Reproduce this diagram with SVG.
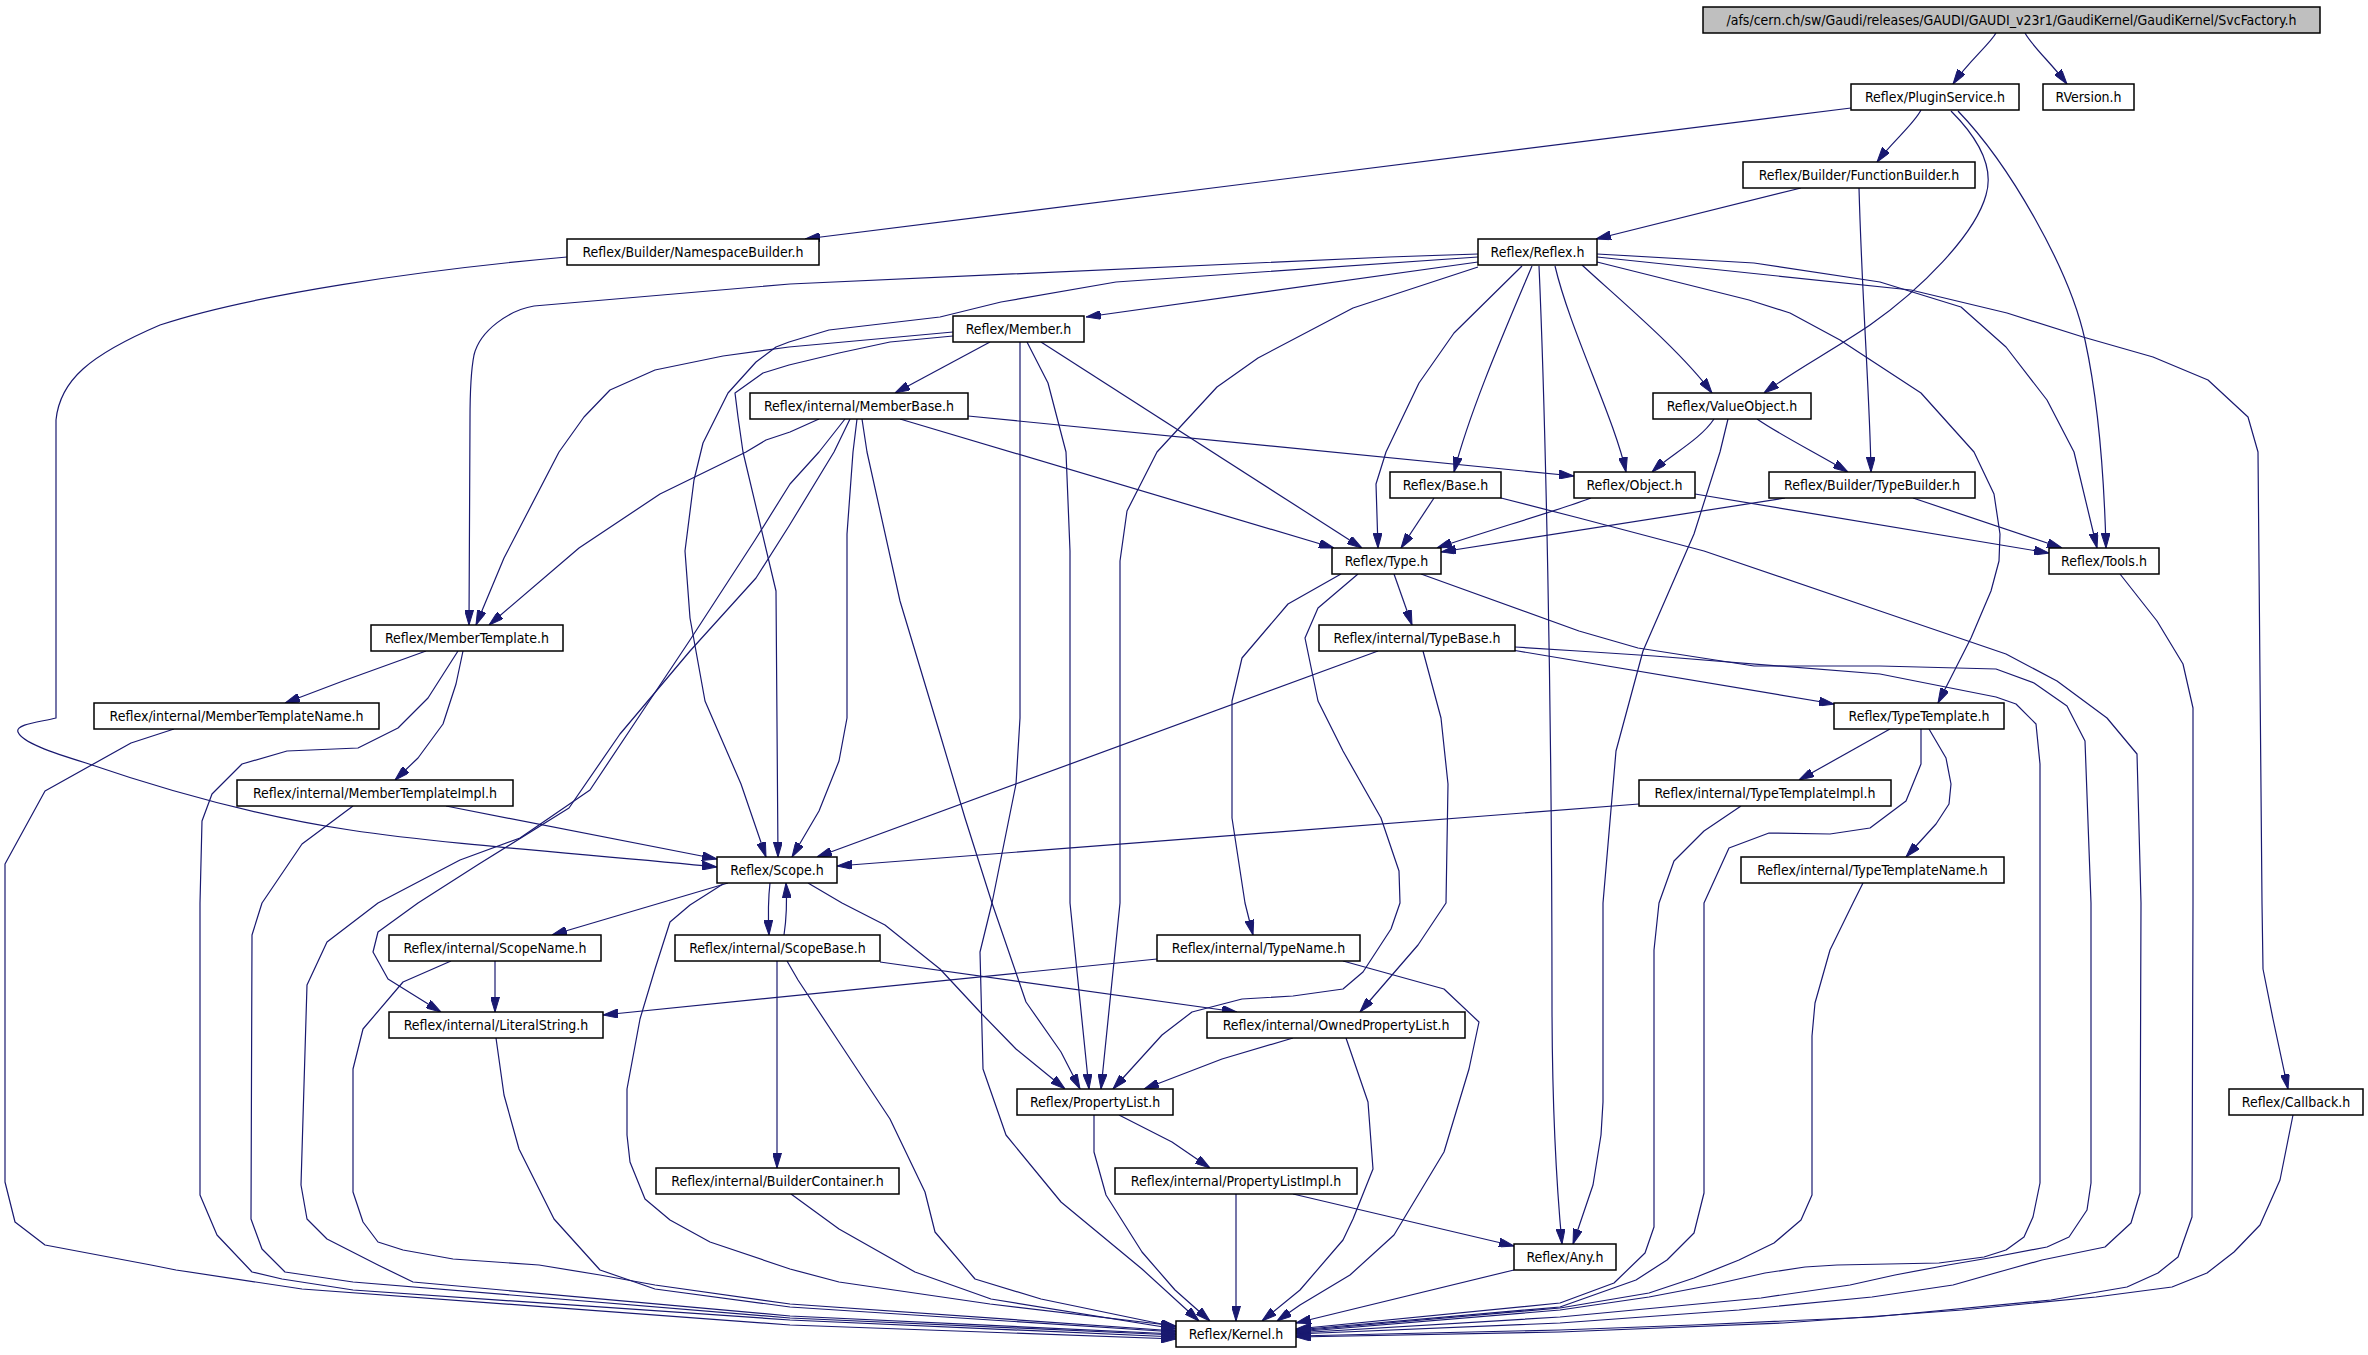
<svg xmlns="http://www.w3.org/2000/svg" width="2368" height="1355" viewBox="0 0 2368 1355">
<defs>
<marker id="ah" markerWidth="15" markerHeight="9" refX="15" refY="4.5" orient="auto" markerUnits="userSpaceOnUse">
<path d="M0,0 L15,4.5 L0,9 z" fill="#191970" stroke="#191970" stroke-width="1"/>
</marker>
<style>
.e{fill:none;stroke:#191970;stroke-width:1.2;stroke-linejoin:round;marker-end:url(#ah)}
.n rect{fill:#ffffff;stroke:#000000;stroke-width:1.5}
.n text{font-family:'DejaVu Sans Condensed','DejaVu Sans',sans-serif;font-stretch:condensed;font-size:14px;text-anchor:middle;fill:#000000}
.root rect{fill:#bfbfbf}
</style>
</defs>
<rect x="0" y="0" width="2368" height="1355" fill="#ffffff"/>
<g id="edges">
<path class="e" d="M1996,33 C1990,44 1968,62 1953,84"/>
<path class="e" d="M2025,33 C2032,46 2052,64 2067,84"/>
<path class="e" d="M1851,108 L805,239"/>
<path class="e" d="M1921,110 C1914,124 1892,142 1877,162"/>
<path class="e" d="M1951,111 C1975,135 1995,165 1986,195 C1975,235 1920,290 1870,325 C1830,352 1795,370 1764,393"/>
<path class="e" d="M1958,111 C2010,165 2070,270 2085,340 C2098,400 2104,470 2106,548"/>
<path class="e" d="M1801,188 L1596,239"/>
<path class="e" d="M1859,188 C1862,300 1870,400 1871,472"/>
<path class="e" d="M567,257 C420,270 250,295 160,325 C90,355 60,380 56,420 L56,718 C40,722 15,724 18,732 C22,742 50,752 86,763 C150,785 250,815 350,830 C450,845 600,855 717,867"/>
<path class="e" d="M1478,254 L1389,257 L790,284 L534,306 C510,310 480,330 474,355 C470,375 470,400 470,420 L469,625"/>
<path class="e" d="M1478,257 L1116,282 L1001,302 L940,317 L829,330 L789,342 L776,347 L756,362 L728,393 L703,443 L694,480 L685,551 L690,618 L705,701 L741,784 L766,857"/>
<path class="e" d="M1478,262 L1086,317"/>
<path class="e" d="M1478,267 L1353,308 L1258,358 L1217,387 L1157,452 L1127,511 L1120,561 L1120,903 L1101,1089"/>
<path class="e" d="M1522,266 L1454,333 L1419,383 L1386,452 L1376,484 L1378,548"/>
<path class="e" d="M1532,266 C1505,330 1470,410 1454,472"/>
<path class="e" d="M1539,266 C1545,400 1552,700 1552,1000 C1552,1110 1556,1180 1562,1244"/>
<path class="e" d="M1555,266 C1570,330 1615,420 1626,472"/>
<path class="e" d="M1582,265 C1620,300 1680,350 1712,393"/>
<path class="e" d="M1597,262 L1749,300 L1790,313 L1840,340 L1921,393 L1974,452 L1994,494 L2000,534 L1999,561 L1991,591 L1971,638 L1938,703"/>
<path class="e" d="M1597,254 L1754,263 L1880,282 L1961,307 L2006,347 L2047,400 L2074,452 L2097,548"/>
<path class="e" d="M1597,257 L1911,290 L2007,313 L2083,337 L2153,357 L2208,380 L2248,417 L2258,452 L2262,903 L2263,969 L2273,1019 L2288,1089"/>
<path class="e" d="M990,342 L895,393"/>
<path class="e" d="M953,332 L789,347 L723,356 L655,370 L610,390 L584,417 L559,452 L504,558 L476,625"/>
<path class="e" d="M953,336 L890,342 L839,353 L789,365 L763,373 L735,393 L738,417 L743,452 L776,591 L778,857"/>
<path class="e" d="M1020,342 L1020,718 L1016,784 L992,903 L980,952 L983,1069 L1006,1135 L1061,1202 L1142,1269 L1199,1321"/>
<path class="e" d="M1027,342 L1048,383 L1066,452 L1070,551 L1070,903 L1089,1089"/>
<path class="e" d="M1041,342 L1362,548"/>
<path class="e" d="M819,419 L790,432 L766,440 L746,452 L660,494 L579,548 L489,625"/>
<path class="e" d="M845,419 L819,452 L790,484 L755,540 L690,640 L640,715 L590,790 L520,838 L460,860 L378,903 L327,942 L307,985 L301,1185 L307,1219 L327,1239 L378,1265 L413,1282 L790,1316 L1176,1334"/>
<path class="e" d="M850,419 L834,452 L789,526 L756,578 L690,651 L620,734 L569,808 L479,864 L418,903 L378,932 L373,952 L388,979 L441,1012"/>
<path class="e" d="M857,419 L853,452 L847,534 L847,718 L839,761 L819,811 L792,857"/>
<path class="e" d="M862,419 L867,452 L900,601 L940,734 L965,818 L992,903 L1026,1002 L1061,1052 L1080,1089"/>
<path class="e" d="M900,419 L1334,548"/>
<path class="e" d="M968,416 L1574,476"/>
<path class="e" d="M1714,419 C1700,440 1670,455 1652,472"/>
<path class="e" d="M1757,419 C1780,435 1820,455 1848,472"/>
<path class="e" d="M1728,419 L1720,452 L1694,534 L1643,651 L1616,751 L1603,903 L1603,1102 L1601,1135 L1593,1185 L1573,1244"/>
<path class="e" d="M1434,498 L1401,548"/>
<path class="e" d="M1501,498 L1579,518 L1704,551 L1880,611 L2006,654 L2057,681 L2107,718 L2137,754 L2141,903 L2140,1193 L2131,1223 L2105,1247 L2042,1260 L2006,1270 L1953,1285 L1872,1297 L1739,1310 L1560,1323 L1296,1334"/>
<path class="e" d="M1591,498 C1560,510 1480,533 1437,548"/>
<path class="e" d="M1695,494 L2049,553"/>
<path class="e" d="M1785,498 L1441,552"/>
<path class="e" d="M1913,498 L2062,548"/>
<path class="e" d="M1394,574 L1412,625"/>
<path class="e" d="M1341,574 L1288,604 L1242,658 L1232,701 L1232,818 L1245,903 L1253,935"/>
<path class="e" d="M1358,574 L1318,608 L1305,638 L1318,701 L1343,751 L1381,818 L1399,871 L1400,903 L1391,929 L1363,972 L1343,989 L1293,996 L1242,999 L1192,1012 L1162,1035 L1113,1089"/>
<path class="e" d="M1421,574 L1579,631 L1638,648 L1754,666 L1880,666 L1996,669 L2034,683 L2067,706 L2085,741 L2091,903 L2091,1183 L2087,1210 L2069,1237 L2047,1247 L1989,1258 L1948,1265 L1895,1275 L1850,1285 L1761,1298 L1560,1317 L1296,1333"/>
<path class="e" d="M1515,647 L1578,651 L1654,656 L1880,674 L1996,697 L2016,704 L2036,724 L2040,764 L2040,903 L2040,1183 L2033,1217 L2024,1237 L2006,1250 L1984,1257 L1939,1263 L1837,1265 L1805,1267 L1765,1273 L1712,1285 L1649,1297 L1560,1310 L1296,1332"/>
<path class="e" d="M1512,650 L1834,704"/>
<path class="e" d="M1378,651 L817,857"/>
<path class="e" d="M1423,651 L1441,718 L1448,784 L1446,903 L1418,945 L1360,1012"/>
<path class="e" d="M1890,729 L1799,780"/>
<path class="e" d="M1929,729 L1946,758 L1951,784 L1949,804 L1936,824 L1906,857"/>
<path class="e" d="M1921,729 L1921,764 L1906,801 L1870,828 L1830,834 L1769,833 L1729,848 L1704,903 L1704,1193 L1694,1233 L1667,1260 L1636,1280 L1560,1307 L1296,1330"/>
<path class="e" d="M1639,804 L837,866"/>
<path class="e" d="M1741,806 L1704,831 L1674,861 L1659,903 L1654,950 L1654,1227 L1645,1253 L1614,1283 L1560,1303 L1296,1329"/>
<path class="e" d="M1863,883 L1853,903 L1830,950 L1815,1003 L1812,1036 L1812,1195 L1801,1220 L1774,1243 L1739,1260 L1694,1278 L1649,1293 L1560,1308 L1296,1331"/>
<path class="e" d="M2120,574 L2157,621 L2183,664 L2193,708 L2193,903 L2192,1217 L2178,1257 L2158,1273 L2127,1287 L2051,1300 L1873,1317 L1694,1325 L1560,1330 L1296,1336"/>
<path class="e" d="M2293,1115 L2280,1180 L2260,1225 L2234,1252 L2207,1273 L2172,1287 L2096,1297 L1962,1310 L1783,1323 L1560,1332 L1296,1337"/>
<path class="e" d="M728,883 L552,935"/>
<path class="e" d="M723,884 L690,905 L670,922 L655,969 L640,1019 L627,1089 L627,1135 L630,1162 L645,1199 L670,1220 L710,1242 L790,1269 L839,1282 L990,1304 L1176,1326"/>
<path class="e" d="M770,883 C768,900 768,915 769,935"/>
<path class="e" d="M784,935 C787,915 787,900 786,883"/>
<path class="e" d="M808,883 L842,903 L885,925 L940,969 L980,1012 L1016,1049 L1065,1089"/>
<path class="e" d="M495,961 L495,1012"/>
<path class="e" d="M451,961 L403,982 L363,1029 L353,1069 L353,1192 L363,1222 L378,1242 L403,1250 L453,1259 L539,1265 L600,1275 L655,1285 L790,1304 L1176,1331"/>
<path class="e" d="M496,1038 L504,1095 L519,1149 L554,1219 L600,1270 L655,1289 L790,1307 L1176,1332"/>
<path class="e" d="M777,961 L777,1168"/>
<path class="e" d="M880,962 L1237,1012"/>
<path class="e" d="M787,961 L798,980 L839,1042 L890,1119 L925,1192 L935,1232 L975,1279 L1041,1299 L1176,1327"/>
<path class="e" d="M1157,959 L603,1015"/>
<path class="e" d="M1343,961 L1444,989 L1479,1022 L1469,1069 L1444,1152 L1394,1235 L1350,1275 L1300,1305 L1277,1321"/>
<path class="e" d="M1293,1038 L1222,1059 L1144,1089"/>
<path class="e" d="M1346,1038 L1368,1102 L1373,1169 L1353,1219 L1343,1240 L1300,1290 L1262,1321"/>
<path class="e" d="M1119,1115 L1172,1142 L1210,1168"/>
<path class="e" d="M1094,1115 L1094,1152 L1106,1195 L1142,1252 L1175,1290 L1210,1321"/>
<path class="e" d="M1236,1194 L1236,1321"/>
<path class="e" d="M1293,1194 L1514,1246"/>
<path class="e" d="M791,1194 L839,1229 L915,1272 L991,1299 L1176,1329"/>
<path class="e" d="M1514,1270 L1296,1323"/>
<path class="e" d="M426,651 L343,681 L285,703"/>
<path class="e" d="M463,651 L456,684 L443,724 L418,758 L395,780"/>
<path class="e" d="M458,651 L428,698 L398,728 L358,748 L287,751 L242,764 L212,794 L202,821 L200,903 L200,1195 L217,1235 L252,1272 L282,1279 L353,1290 L790,1320 L1176,1337"/>
<path class="e" d="M446,806 L717,859"/>
<path class="e" d="M353,806 L302,844 L262,903 L252,935 L251,1219 L262,1249 L285,1272 L353,1282 L790,1318 L1176,1335"/>
<path class="e" d="M174,729 L131,743 L45,791 L5,864 L5,1182 L15,1222 L45,1245 L151,1265 L176,1270 L302,1289 L790,1325 L1176,1339"/>
</g>
<g id="node-svcfactory" class="n root"><rect x="1703" y="7" width="617" height="26"/><text x="2011.5" y="25">/afs/cern.ch/sw/Gaudi/releases/GAUDI/GAUDI_v23r1/GaudiKernel/GaudiKernel/SvcFactory.h</text></g>
<g id="node-pluginservice" class="n"><rect x="1851" y="84" width="168" height="26"/><text x="1935" y="102">Reflex/PluginService.h</text></g>
<g id="node-rversion" class="n"><rect x="2043" y="84" width="91" height="26"/><text x="2088.5" y="102">RVersion.h</text></g>
<g id="node-functionbuilder" class="n"><rect x="1743" y="162" width="232" height="26"/><text x="1859" y="180">Reflex/Builder/FunctionBuilder.h</text></g>
<g id="node-namespacebuilder" class="n"><rect x="567" y="239" width="252" height="26"/><text x="693" y="257">Reflex/Builder/NamespaceBuilder.h</text></g>
<g id="node-reflex" class="n"><rect x="1478" y="239" width="119" height="26"/><text x="1537.5" y="257">Reflex/Reflex.h</text></g>
<g id="node-member" class="n"><rect x="953" y="316" width="131" height="26"/><text x="1018.5" y="334">Reflex/Member.h</text></g>
<g id="node-memberbase" class="n"><rect x="750" y="393" width="218" height="26"/><text x="859" y="411">Reflex/internal/MemberBase.h</text></g>
<g id="node-valueobject" class="n"><rect x="1653" y="393" width="158" height="26"/><text x="1732" y="411">Reflex/ValueObject.h</text></g>
<g id="node-base" class="n"><rect x="1390" y="472" width="111" height="26"/><text x="1445.5" y="490">Reflex/Base.h</text></g>
<g id="node-object" class="n"><rect x="1574" y="472" width="121" height="26"/><text x="1634.5" y="490">Reflex/Object.h</text></g>
<g id="node-typebuilder" class="n"><rect x="1769" y="472" width="206" height="26"/><text x="1872" y="490">Reflex/Builder/TypeBuilder.h</text></g>
<g id="node-type" class="n"><rect x="1332" y="548" width="109" height="26"/><text x="1386.5" y="566">Reflex/Type.h</text></g>
<g id="node-tools" class="n"><rect x="2049" y="548" width="110" height="26"/><text x="2104" y="566">Reflex/Tools.h</text></g>
<g id="node-membertemplate" class="n"><rect x="371" y="625" width="192" height="26"/><text x="467" y="643">Reflex/MemberTemplate.h</text></g>
<g id="node-typebase" class="n"><rect x="1319" y="625" width="196" height="26"/><text x="1417" y="643">Reflex/internal/TypeBase.h</text></g>
<g id="node-membertemplatename" class="n"><rect x="94" y="703" width="285" height="26"/><text x="236.5" y="721">Reflex/internal/MemberTemplateName.h</text></g>
<g id="node-typetemplate" class="n"><rect x="1834" y="703" width="170" height="26"/><text x="1919" y="721">Reflex/TypeTemplate.h</text></g>
<g id="node-membertemplateimpl" class="n"><rect x="237" y="780" width="276" height="26"/><text x="375" y="798">Reflex/internal/MemberTemplateImpl.h</text></g>
<g id="node-typetemplateimpl" class="n"><rect x="1639" y="780" width="252" height="26"/><text x="1765" y="798">Reflex/internal/TypeTemplateImpl.h</text></g>
<g id="node-scope" class="n"><rect x="717" y="857" width="120" height="26"/><text x="777" y="875">Reflex/Scope.h</text></g>
<g id="node-typetemplatename" class="n"><rect x="1741" y="857" width="263" height="26"/><text x="1872.5" y="875">Reflex/internal/TypeTemplateName.h</text></g>
<g id="node-scopename" class="n"><rect x="389" y="935" width="212" height="26"/><text x="495" y="953">Reflex/internal/ScopeName.h</text></g>
<g id="node-scopebase" class="n"><rect x="675" y="935" width="205" height="26"/><text x="777.5" y="953">Reflex/internal/ScopeBase.h</text></g>
<g id="node-typename" class="n"><rect x="1157" y="935" width="203" height="26"/><text x="1258.5" y="953">Reflex/internal/TypeName.h</text></g>
<g id="node-literalstring" class="n"><rect x="389" y="1012" width="214" height="26"/><text x="496" y="1030">Reflex/internal/LiteralString.h</text></g>
<g id="node-ownedpropertylist" class="n"><rect x="1207" y="1012" width="258" height="26"/><text x="1336" y="1030">Reflex/internal/OwnedPropertyList.h</text></g>
<g id="node-propertylist" class="n"><rect x="1017" y="1089" width="156" height="26"/><text x="1095" y="1107">Reflex/PropertyList.h</text></g>
<g id="node-callback" class="n"><rect x="2229" y="1089" width="134" height="26"/><text x="2296" y="1107">Reflex/Callback.h</text></g>
<g id="node-buildercontainer" class="n"><rect x="656" y="1168" width="243" height="26"/><text x="777.5" y="1186">Reflex/internal/BuilderContainer.h</text></g>
<g id="node-propertylistimpl" class="n"><rect x="1115" y="1168" width="242" height="26"/><text x="1236" y="1186">Reflex/internal/PropertyListImpl.h</text></g>
<g id="node-any" class="n"><rect x="1514" y="1244" width="102" height="26"/><text x="1565" y="1262">Reflex/Any.h</text></g>
<g id="node-kernel" class="n"><rect x="1176" y="1321" width="120" height="26"/><text x="1236" y="1339">Reflex/Kernel.h</text></g>
</svg>
